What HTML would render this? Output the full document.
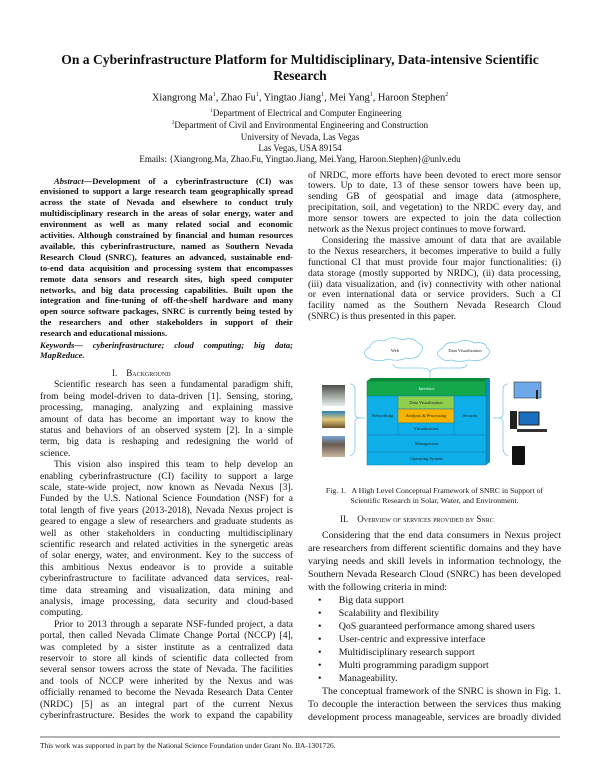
<!DOCTYPE html>
<html><head><meta charset="utf-8">
<style>
body{margin:0;background:#fff;}
#p{position:relative;width:600px;height:776px;overflow:hidden;font-family:"Liberation Serif",serif;color:#111;}
.t{position:absolute;left:0;width:600px;text-align:center;white-space:nowrap;}
.j{position:absolute;text-align:justify;text-align-last:justify;word-spacing:-1.2px;overflow:hidden;white-space:normal;}
.j.e{text-align-last:left;word-spacing:0;}
.L{left:40px;width:253px;}
.R{left:308px;width:253px;}
.a{font-size:8.6px;font-weight:bold;height:10.9px;line-height:10.9px;}
.b{font-size:9.5px;height:11.4px;line-height:11.4px;}
.c{font-size:9.5px;height:10.9px;line-height:10.9px;}
.d{font-size:9.9px;height:13px;line-height:13px;}
.h{position:absolute;font-size:9px;white-space:nowrap;}
.sc{font-variant:small-caps;}
.fl{font-size:4.5px;color:#222;position:absolute;text-align:center;white-space:nowrap;}
</style></head><body><div id="p">
<div class="t" style="top:52px;font-size:13.6px;font-weight:bold;">On a Cyberinfrastructure Platform for Multidisciplinary, Data-intensive Scientific</div>
<div class="t" style="top:68px;font-size:13.6px;font-weight:bold;">Research</div>
<div class="t" style="top:92px;font-size:10.4px;">Xiangrong Ma<sup style="font-size:6px">1</sup>, Zhao Fu<sup style="font-size:6px">1</sup>, Yingtao Jiang<sup style="font-size:6px">1</sup>, Mei Yang<sup style="font-size:6px">1</sup>, Haroon Stephen<sup style="font-size:6px">2</sup></div>
<div class="t" style="top:108px;font-size:9px;left:6px;"><sup style="font-size:5px">1</sup>Department of Electrical and Computer Engineering</div>
<div class="t" style="top:120px;font-size:9px;"><sup style="font-size:5px">2</sup>Department of Civil and Environmental Engineering and Construction</div>
<div class="t" style="top:132px;font-size:9px;">University of Nevada, Las Vegas</div>
<div class="t" style="top:143px;font-size:9px;">Las Vegas, USA 89154</div>
<div class="t" style="top:154px;font-size:9px;">Emails: {Xiangrong.Ma, Zhao.Fu, Yingtao.Jiang, Mei.Yang, Haroon.Stephen}@unlv.edu</div>

<!-- abstract -->
<div class="j L a" style="top:175.5px;padding-left:14px;width:239px;"><i>Abstract</i>—Development of a cyberinfrastructure (CI) was</div>
<div class="j L a" style="top:186.4px">envisioned to support a large research team geographically spread</div>
<div class="j L a" style="top:197.3px">across the state of Nevada and elsewhere to conduct truly</div>
<div class="j L a" style="top:208.2px">multidisciplinary research in the areas of solar energy, water and</div>
<div class="j L a" style="top:219.1px">environment as well as many related social and economic</div>
<div class="j L a" style="top:230px">activities. Although constrained by financial and human resources</div>
<div class="j L a" style="top:240.9px">available, this cyberinfrastructure, named as Southern Nevada</div>
<div class="j L a" style="top:251.8px">Research Cloud (SNRC), features an advanced, sustainable end-</div>
<div class="j L a" style="top:262.7px">to-end data acquisition and processing system that encompasses</div>
<div class="j L a" style="top:273.6px">remote data sensors and research sites, high speed computer</div>
<div class="j L a" style="top:284.5px">networks, and big data processing capabilities. Built upon the</div>
<div class="j L a" style="top:295.4px">integration and fine-tuning of off-the-shelf hardware and many</div>
<div class="j L a" style="top:306.3px">open source software packages, SNRC is currently being tested by</div>
<div class="j L a" style="top:317.2px">the researchers and other stakeholders in support of their</div>
<div class="j L a e" style="top:328.1px">research and educational missions.</div>
<div class="j L a" style="top:339.5px;font-style:italic;">Keywords— cyberinfrastructure; cloud computing; big data;</div>
<div class="j L a e" style="top:350.4px;font-style:italic;">MapReduce.</div>
<div class="h" style="top:368px;left:112px;">I.&nbsp;&nbsp;&nbsp;&nbsp;<span class="sc">Background</span></div>

<!-- left body -->
<div class="j L b" style="top:380.3px;padding-left:14px;width:239px;">Scientific research has seen a fundamental paradigm shift,</div>
<div class="j L b" style="top:391.7px">from being model-driven to data-driven [1]. Sensing, storing,</div>
<div class="j L b" style="top:403.1px">processing, managing, analyzing and explaining massive</div>
<div class="j L b" style="top:414.5px">amount of data has become an important way to know the</div>
<div class="j L b" style="top:425.9px">status and behaviors of an observed system [2]. In a simple</div>
<div class="j L b" style="top:437.3px">term, big data is reshaping and redesigning the world of</div>
<div class="j L b e" style="top:448.7px">science.</div>
<div class="j L b" style="top:460.1px;padding-left:14px;width:239px;">This vision also inspired this team to help develop an</div>
<div class="j L b" style="top:471.5px">enabling cyberinfrastructure (CI) facility to support a large</div>
<div class="j L b" style="top:482.9px">scale, state-wide project, now known as Nevada Nexus [3].</div>
<div class="j L b" style="top:494.3px">Funded by the U.S. National Science Foundation (NSF) for a</div>
<div class="j L b" style="top:505.7px">total length of five years (2013-2018), Nevada Nexus project is</div>
<div class="j L b" style="top:517.1px">geared to engage a slew of researchers and graduate students as</div>
<div class="j L b" style="top:528.5px">well as other stakeholders in conducting multidisciplinary</div>
<div class="j L b" style="top:539.9px">scientific research and related activities in the synergetic areas</div>
<div class="j L b" style="top:551.3px">of solar energy, water, and environment. Key to the success of</div>
<div class="j L b" style="top:562.7px">this ambitious Nexus endeavor is to provide a suitable</div>
<div class="j L b" style="top:574.1px">cyberinfrastructure to facilitate advanced data services, real-</div>
<div class="j L b" style="top:585.5px">time data streaming and visualization, data mining and</div>
<div class="j L b" style="top:596.9px">analysis, image processing, data security and cloud-based</div>
<div class="j L b e" style="top:608.3px">computing.</div>
<div class="j L b" style="top:619.7px;padding-left:14px;width:239px;">Prior to 2013 through a separate NSF-funded project, a data</div>
<div class="j L b" style="top:631.1px">portal, then called Nevada Climate Change Portal (NCCP) [4],</div>
<div class="j L b" style="top:642.5px">was completed by a sister institute as a centralized data</div>
<div class="j L b" style="top:653.9px">reservoir to store all kinds of scientific data collected from</div>
<div class="j L b" style="top:665.3px">several sensor towers across the state of Nevada. The facilities</div>
<div class="j L b" style="top:676.7px">and tools of NCCP were inherited by the Nexus and was</div>
<div class="j L b" style="top:688.1px">officially renamed to become the Nevada Research Data Center</div>
<div class="j L b" style="top:699.5px">(NRDC) [5] as an integral part of the current Nexus</div>
<div class="j L b" style="top:710.9px">cyberinfrastructure. Besides the work to expand the capability</div>

<!-- right top -->
<div class="j R c" style="top:170.5px">of NRDC, more efforts have been devoted to erect more sensor</div>
<div class="j R c" style="top:181.4px">towers. Up to date, 13 of these sensor towers have been up,</div>
<div class="j R c" style="top:192.3px">sending GB of geospatial and image data (atmosphere,</div>
<div class="j R c" style="top:203.2px">precipitation, soil, and vegetation) to the NRDC every day, and</div>
<div class="j R c" style="top:214.1px">more sensor towers are expected to join the data collection</div>
<div class="j R c e" style="top:225px">network as the Nexus project continues to move forward.</div>
<div class="j R c" style="top:235.9px;padding-left:14px;width:239px;">Considering the massive amount of data that are available</div>
<div class="j R c" style="top:246.8px">to the Nexus researchers, it becomes imperative to build a fully</div>
<div class="j R c" style="top:257.7px">functional CI that must provide four major functionalities: (i)</div>
<div class="j R c" style="top:268.6px">data storage (mostly supported by NRDC), (ii) data processing,</div>
<div class="j R c" style="top:279.5px">(iii) data visualization, and (iv) connectivity with other national</div>
<div class="j R c" style="top:290.4px">or even international data or service providers. Such a CI</div>
<div class="j R c" style="top:301.3px">facility named as the Southern Nevada Research Cloud</div>
<div class="j R c e" style="top:312.2px">(SNRC) is thus presented in this paper.</div>

<!-- figure -->
<svg style="position:absolute;left:0;top:0" width="600" height="776">
<g fill="#fff" stroke="#7cc8ec" stroke-width="0.8">
<path d="M368,358 q-8,-6 2,-11 q2,-8 14,-6 q8,-6 18,-1 q10,-4 16,3 q8,3 2,11 q-4,6 -14,4 q-8,4 -18,1 q-10,4 -20,-1z"/>
<path d="M441,358 q-8,-5 2,-10 q3,-7 13,-5 q9,-5 19,0 q10,-2 12,5 q6,4 -2,10 q-6,4 -16,2 q-10,3 -18,0 q-6,2 -10,-2z"/>
<path d="M393,364 q0,4 8,4 l20,0 q9,0 9,5 q0,-5 9,-5 l20,0 q8,0 8,-4" fill="none"/>
<line x1="430" y1="373" x2="430" y2="379"/>
<path d="M350,384 q5,0 5,6 l0,24 q0,4 5,4 q-5,0 -5,4 l0,26 q0,6 -5,8" fill="none"/>
<line x1="360" y1="418" x2="365" y2="418"/>
<path d="M508,384 q-5,0 -5,6 l0,24 q0,4 -5,4 q5,0 5,4 l0,26 q0,6 5,8" fill="none"/>
<line x1="493" y1="418" x2="498" y2="418"/>
</g>
<polygon points="367,381 371,378 490,378 486,381" fill="#0f8a3c"/>
<polygon points="486,381 490,378 490,462 486,465" fill="#0a90c8"/>
<rect x="367" y="381" width="119" height="15" fill="#14a84a" stroke="#0b7a36" stroke-width="0.5"/>
<rect x="367" y="396" width="119" height="39" fill="#0eaee8" stroke="#0a7fb0" stroke-width="0.5"/>
<rect x="398" y="396" width="56" height="13" fill="#8fcf4c" stroke="#0a7fb0" stroke-width="0.5"/>
<rect x="398" y="409" width="56" height="14" fill="#f6b400" stroke="#0a7fb0" stroke-width="0.5"/>
<rect x="398" y="423" width="56" height="12" fill="#0eaee8" stroke="#0a7fb0" stroke-width="0.5"/>
<rect x="367" y="435" width="119" height="17" fill="#0eaee8" stroke="#0a7fb0" stroke-width="0.5"/>
<rect x="367" y="452" width="119" height="13" fill="#0eaee8" stroke="#0a7fb0" stroke-width="0.5"/>
<defs>
<linearGradient id="g1" x1="0" y1="0" x2="0" y2="1"><stop offset="0" stop-color="#4a4c48"/><stop offset="0.5" stop-color="#9aa39a"/><stop offset="1" stop-color="#e6eef0"/></linearGradient>
<linearGradient id="g2" x1="0" y1="0" x2="0" y2="1"><stop offset="0" stop-color="#2a7fb8"/><stop offset="0.5" stop-color="#e2c87a"/><stop offset="1" stop-color="#6a5028"/></linearGradient>
<linearGradient id="g3" x1="0" y1="0" x2="0" y2="1"><stop offset="0" stop-color="#7aa6d8"/><stop offset="0.4" stop-color="#6a5a50"/><stop offset="1" stop-color="#c8b8a0"/></linearGradient>
</defs>
<rect x="322" y="385" width="23" height="21" fill="url(#g1)"/>
<rect x="322" y="411" width="23" height="17" fill="url(#g2)"/>
<rect x="322" y="436" width="23" height="21" fill="url(#g3)"/>
<rect x="514" y="382" width="27" height="16" fill="#6ea8e8" stroke="#333" stroke-width="0.6"/>
<rect x="536" y="390" width="2" height="9" fill="#222"/>
<rect x="519" y="412" width="20" height="13" fill="#1a6fc0" stroke="#222" stroke-width="1"/>
<rect x="510" y="411" width="7" height="18" fill="#222"/>
<rect x="517" y="429" width="30" height="3" fill="#333"/>
<rect x="512" y="446" width="13" height="19" rx="1" fill="#111"/>
<rect x="0" y="0" width="0" height="0"/>
<line x1="40" y1="737" x2="560" y2="737" stroke="#888" stroke-width="1.2"/>
</svg>
<div class="fl" style="left:385px;top:348px;width:20px;">Web</div>
<div class="fl" style="left:445px;top:348px;width:40px;">Data Visualization</div>
<div class="fl" style="left:367px;top:386px;width:119px;color:#fff">Interface</div>
<div class="fl" style="left:398px;top:400px;width:56px;">Data Visualization</div>
<div class="fl" style="left:398px;top:413px;width:56px;font-style:italic">Analysis &amp; Processing</div>
<div class="fl" style="left:398px;top:426px;width:56px;">Virtualization</div>
<div class="fl" style="left:367px;top:413px;width:31px;">Networking</div>
<div class="fl" style="left:454px;top:413px;width:32px;">Security</div>
<div class="fl" style="left:367px;top:441px;width:119px;">Management</div>
<div class="fl" style="left:367px;top:456px;width:119px;">Operating System</div>

<div class="t" style="left:308px;width:253px;top:486px;font-size:7.8px;">Fig. 1.&nbsp;&nbsp; A High Level Conceptual Framework of SNRC in Support of</div>
<div class="t" style="left:308px;width:253px;top:496px;font-size:7.8px;">Scientific Research in Solar, Water, and Environment.</div>
<div class="h" style="top:514px;left:340px;">II.&nbsp;&nbsp;&nbsp;&nbsp;<span class="sc">Overview of services provided by Snrc</span></div>

<div class="j R d" style="top:528.5px;padding-left:14px;width:239px;">Considering that the end data consumers in Nexus project</div>
<div class="j R d" style="top:541.5px">are researchers from different scientific domains and they have</div>
<div class="j R d" style="top:554.5px">varying needs and skill levels in information technology, the</div>
<div class="j R d" style="top:567.5px">Southern Nevada Research Cloud (SNRC) has been developed</div>
<div class="j R d e" style="top:580.5px">with the following criteria in mind:</div>
<div class="j R d e" style="top:593.5px;padding-left:10px;">•&nbsp;&nbsp;&nbsp;&nbsp;&nbsp;&nbsp;&nbsp;Big data support</div>
<div class="j R d e" style="top:606.5px;padding-left:10px;">•&nbsp;&nbsp;&nbsp;&nbsp;&nbsp;&nbsp;&nbsp;Scalability and flexibility</div>
<div class="j R d e" style="top:619.5px;padding-left:10px;">•&nbsp;&nbsp;&nbsp;&nbsp;&nbsp;&nbsp;&nbsp;QoS guaranteed performance among shared users</div>
<div class="j R d e" style="top:632.5px;padding-left:10px;">•&nbsp;&nbsp;&nbsp;&nbsp;&nbsp;&nbsp;&nbsp;User-centric and expressive interface</div>
<div class="j R d e" style="top:645.5px;padding-left:10px;">•&nbsp;&nbsp;&nbsp;&nbsp;&nbsp;&nbsp;&nbsp;Multidisciplinary research support</div>
<div class="j R d e" style="top:658.5px;padding-left:10px;">•&nbsp;&nbsp;&nbsp;&nbsp;&nbsp;&nbsp;&nbsp;Multi programming paradigm support</div>
<div class="j R d e" style="top:671.5px;padding-left:10px;">•&nbsp;&nbsp;&nbsp;&nbsp;&nbsp;&nbsp;&nbsp;Manageability.</div>
<div class="j R d" style="top:684.5px;padding-left:14px;width:239px;">The conceptual framework of the SNRC is shown in Fig. 1.</div>
<div class="j R d" style="top:697.5px">To decouple the interaction between the services thus making</div>
<div class="j R d" style="top:710.5px">development process manageable, services are broadly divided</div>

<div class="t" style="left:40px;width:auto;top:741px;font-size:7.4px;text-align:left;">This work was supported in part by the National Science Foundation under Grant No. IIA-1301726.</div>
</div></body></html>
